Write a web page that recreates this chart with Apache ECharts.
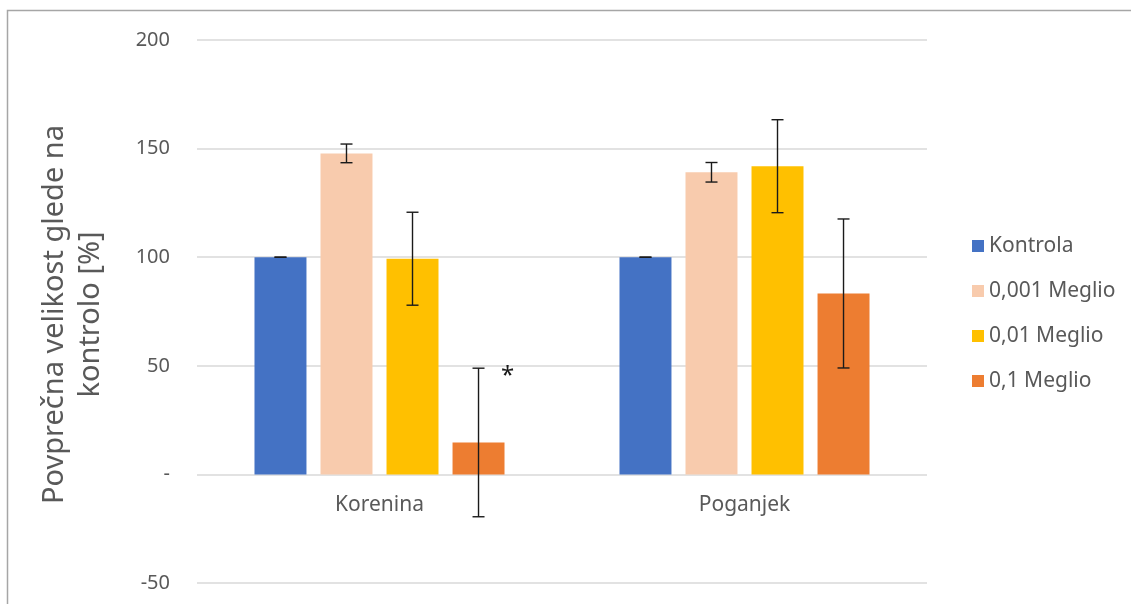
<!DOCTYPE html>
<html>
<head>
<meta charset="utf-8">
<script src="https://cdn.jsdelivr.net/npm/echarts@6/dist/echarts.min.js"></script>
<style>
  html, body { margin: 0; padding: 0; background: #fff; }
  #chart { width: 1131px; height: 604px; }
</style>
</head>
<body>
<div id="chart"></div>
<script>
// Groups on the x axis
const categories = ['Korenina', 'Poganjek'];

// Treatments (legend entries)
const seriesNames = ['Kontrola', '0,001 Meglio', '0,01 Meglio', '0,1 Meglio'];
const seriesColors = ['#4472C4', '#F8CBAD', '#FFC000', '#ED7D31'];

// Mean size relative to control [%], per treatment: [Korenina, Poganjek]
const kontrola = [100, 100];
const meglio0001 = [147.8, 139.1];
const meglio001 = [99.3, 141.9];
const meglio01 = [14.7, 83.3];

// Error bar half-widths, per treatment: [Korenina, Poganjek]
const errKontrola = [0, 0];
const err0001 = [4.3, 4.5];
const err001 = [21.4, 21.4];
const err01 = [34.2, 34.3];

// Significance marks, per treatment: [Korenina, Poganjek]
const sigKontrola = ['', ''];
const sig0001 = ['', ''];
const sig001 = ['', ''];
const sig01 = ['*', ''];

// Y axis range and step
const yMin = -50;
const yMax = 200;
const yStep = 50;

const values = [kontrola, meglio0001, meglio001, meglio01];
const errors = [errKontrola, err0001, err001, err01];
const marks = [sigKontrola, sig0001, sig001, sig01];

const BAR_GAP = 0.27;
const CAT_GAP = 0.315;
const FONT = '"Noto Sans", sans-serif';
const TEXT = '#595959';

// Error bar items: [category, series, low, high, mark]
const errorData = [];
values.forEach((vals, s) => {
  vals.forEach((v, c) => {
    errorData.push([c, s, v - errors[s][c], v + errors[s][c], marks[s][c]]);
  });
});

function renderErrorBar(params, api) {
  const c = api.value(0);
  const s = api.value(1);
  const n = seriesNames.length;
  const bandW = api.size([1, 0])[0];
  const groupW = bandW * (1 - CAT_GAP);
  const barW = groupW / (n + (n - 1) * BAR_GAP);
  const base = api.coord([c, 0])[0] - groupW / 2;
  const x = base + s * barW * (1 + BAR_GAP) + barW / 2;
  const yLow = api.coord([c, api.value(2)])[1];
  const yHigh = api.coord([c, api.value(3)])[1];
  const cap = 6;
  const style = { stroke: '#1a1a1a', lineWidth: 1.4 };
  const children = [
    { type: 'line', shape: { x1: x, y1: yLow, x2: x, y2: yHigh }, style },
    { type: 'line', shape: { x1: x - cap, y1: yHigh, x2: x + cap, y2: yHigh }, style },
    { type: 'line', shape: { x1: x - cap, y1: yLow, x2: x + cap, y2: yLow }, style }
  ];
  const mark = errorData[params.dataIndex][4];
  if (mark) {
    children.push({
      type: 'text',
      style: {
        text: mark, x: x + 29, y: yHigh + 8,
        fill: '#1a1a1a', font: '24px ' + FONT,
        align: 'center', verticalAlign: 'middle'
      }
    });
  }
  return { type: 'group', children };
}

const chart = echarts.init(document.getElementById('chart'), null, { renderer: 'canvas' });

const barSeries = seriesNames.map((name, s) => ({
  name,
  type: 'bar',
  data: values[s],
  barGap: (BAR_GAP * 100) + '%',
  barCategoryGap: (CAT_GAP * 100) + '%',
  itemStyle: { color: seriesColors[s] },
  emphasis: { disabled: true }
}));

chart.setOption({
  animation: false,
  textStyle: { fontFamily: FONT },
  graphic: [{
    type: 'rect',
    shape: { x: 7.5, y: 10.5, width: 1200, height: 700 },
    style: { fill: 'none', stroke: '#A6A6A6', lineWidth: 1.5 },
    silent: true
  }],
  grid: { left: 197, right: 204, top: 40, bottom: 21, containLabel: false, outerBoundsMode: 'none' },
  legend: {
    orient: 'vertical',
    left: 967,
    top: 230,
    itemWidth: 12,
    itemHeight: 12,
    itemGap: 23,
    icon: 'rect',
    data: seriesNames,
    textStyle: { color: TEXT, fontSize: 21, fontFamily: FONT, lineHeight: 22 },
    selectedMode: false
  },
  xAxis: {
    type: 'category',
    data: categories,
    axisLine: { show: false, onZero: false },
    axisTick: { show: false },
    axisLabel: { color: TEXT, fontSize: 21, margin: 20 },
    splitLine: { show: false }
  },
  yAxis: {
    type: 'value',
    min: yMin,
    max: yMax,
    interval: yStep,
    name: 'Povprečna velikost glede na\nkontrolo [%]',
    nameLocation: 'middle',
    nameGap: 88,
    nameTextStyle: { color: TEXT, fontSize: 29, lineHeight: 36, align: 'center', padding: [0, 6, 0, 0] },
    axisLine: { show: false },
    axisTick: { show: false },
    axisLabel: {
      color: TEXT, fontSize: 20, margin: 27,
      formatter: v => (v === 0 ? '-' : String(v))
    },
    splitLine: { lineStyle: { color: '#D9D9D9', width: 1.5 } }
  },
  series: barSeries.concat([{
    type: 'custom',
    name: 'errors',
    renderItem: renderErrorBar,
    data: errorData,
    encode: { x: 0, y: [2, 3] },
    z: 10,
    silent: true
  }])
});

// Category labels sit under the zero line: shift the x axis up from the grid bottom to value 0
const yZeroPx = chart.convertToPixel({ yAxisIndex: 0 }, 0);
const yBottomPx = chart.convertToPixel({ yAxisIndex: 0 }, yMin);
chart.setOption({ xAxis: { offset: yZeroPx - yBottomPx } });
</script>
</body>
</html>
